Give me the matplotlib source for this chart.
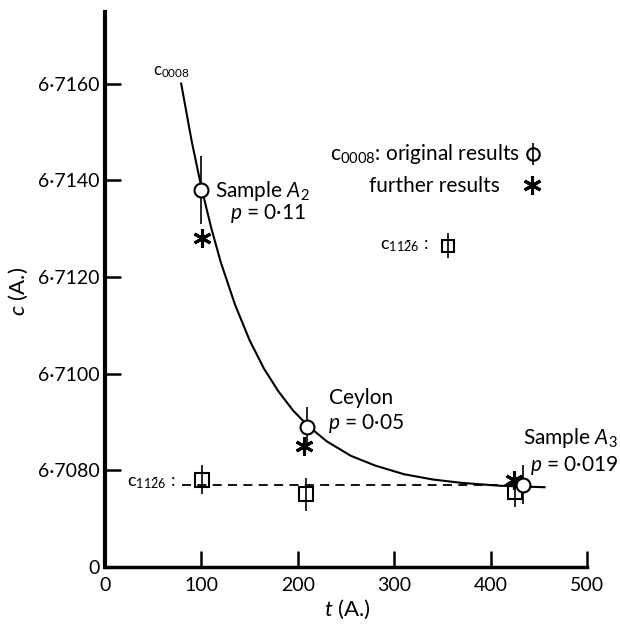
import matplotlib
matplotlib.use('Agg')
import matplotlib.pyplot as plt

plt.rcParams['font.family'] = ['Lato', 'DejaVu Sans']
plt.rcParams['mathtext.fontset'] = 'custom'
plt.rcParams['mathtext.rm'] = 'Lato'
plt.rcParams['mathtext.it'] = 'Lato:italic'
plt.rcParams['mathtext.bf'] = 'Lato:bold'

# ---- data ----
orig_t = [100, 210, 434]
orig_c = [6.7138, 6.7089, 6.7077]
orig_err = [0.0007, 0.0004, 0.0004]

further_t = [101, 206, 424]
further_c = [6.7128, 6.7085, 6.7078]

c1126_t = [101, 208, 425]
c1126_c = [6.7078, 6.7075, 6.70755]
c1126_err = [0.0003, 0.00035, 0.0003]

curve_t = [79, 90, 100, 110, 120, 135, 150, 165, 180, 195, 210, 230, 255,
           280, 310, 340, 370, 410, 456]
curve_c = [6.7160, 6.7148, 6.71385, 6.71303, 6.71231, 6.71142, 6.71069,
           6.7101, 6.70963, 6.70924, 6.70893, 6.7086, 6.7083, 6.7081,
           6.70792, 6.70781, 6.70774, 6.70768, 6.70765]

dash_t = [80, 430]
dash_c = [6.7077, 6.7077]

ytick_vals = [6.7060, 6.7080, 6.7100, 6.7120, 6.7140, 6.7160]
ytick_labels = ['0', '6·7080', '6·7100', '6·7120', '6·7140', '6·7160']
xtick_vals = [0, 100, 200, 300, 400, 500]
xtick_labels = ['0', '100', '200', '300', '400', '500']

labels = [
    (114, 6.71377, r'Sample $\mathit{A}_2$'),
    (130, 6.71331, r'$\mathit{p}$ = 0·11'),
    (232, 6.70949, 'Ceylon'),
    (231, 6.70897, r'$\mathit{p}$ = 0·05'),
    (434, 6.70866, r'Sample $\mathit{A}_3$'),
    (441, 6.70810, r'$\mathit{p}$ = 0·019'),
]

# ---- figure ----
fig = plt.figure(figsize=(6.2, 6.25), dpi=100)
ax = fig.add_axes([105 / 620, 58 / 625, 482 / 620, 555 / 625])
ax.set_xlim(0, 500)
ax.set_ylim(6.7060, 6.71748)

for s in ('top', 'right'):
    ax.spines[s].set_visible(False)
ax.spines['left'].set_linewidth(3)
ax.spines['bottom'].set_linewidth(2.5)

ax.set_yticks(ytick_vals)
ax.set_yticklabels(ytick_labels)
ax.set_xticks(xtick_vals)
ax.set_xticklabels(xtick_labels)
ax.tick_params(direction='in', length=11.5, width=1.8, labelsize=14)
ax.tick_params(axis='y', pad=4)
ax.tick_params(axis='x', pad=7)

ax.set_ylabel(r'$\mathit{c}$ (A.)', fontsize=16)
ax.yaxis.set_label_coords(-0.155, 0.497)
ax.set_xlabel(r'$\mathit{t}$ (A.)', fontsize=16)
ax.xaxis.set_label_coords(0.502, -0.055)

# curve and dashed reference line
ax.plot(curve_t, curve_c, color='k', lw=1.5, zorder=2)
ax.plot(dash_t, dash_c, color='k', lw=1.3, ls=(0, (5, 3.5)), zorder=2)

# original c0008 results
ax.errorbar(orig_t, orig_c, yerr=orig_err, fmt='o', mfc='white', mec='k',
            ecolor='k', elinewidth=1.2, capsize=0, ms=10, mew=1.5, zorder=4)
# further results
ax.plot(further_t, further_c, ls='none', marker=(6, 2, 0), ms=13, mec='k',
        mew=2.2, zorder=4)
# c1126 results
ax.errorbar(c1126_t, c1126_c, yerr=c1126_err, fmt='s', mfc='none', mec='k',
            ecolor='k', elinewidth=1.2, capsize=0, ms=10, mew=1.5, zorder=3)

# annotations
for x, y, s in labels:
    ax.text(x, y, s, fontsize=15, ha='left', va='center', clip_on=False)

ax.text(50, 6.71623, r'$\mathrm{c}_{0008}$', fontsize=12, ha='left', va='center')

# legend-like labels
ax.text(430, 6.71455, r'$\mathrm{c}_{0008}$: original results', fontsize=15,
        ha='right', va='center')
ax.errorbar([444], [6.71455], yerr=[0.00023], fmt='o', mfc='none', mec='k',
            ecolor='k', elinewidth=1.2, capsize=0, ms=9, mew=1.5)
ax.text(410, 6.71389, 'further results', fontsize=15, ha='right', va='center')
ax.plot([443], [6.71391], ls='none', marker=(6, 2, 0), ms=13, mec='k', mew=2.2)
ax.text(335, 6.71265, r'$\mathrm{c}_{11\bar{2}6}$ :', fontsize=13,
        ha='right', va='center')
ax.errorbar([356], [6.71265], yerr=[0.00025], fmt='s', mfc='none', mec='k',
            ecolor='k', elinewidth=1.2, capsize=0, ms=9, mew=1.5)
ax.text(73, 6.70773, r'$\mathrm{c}_{11\bar{2}6}$ :', fontsize=13,
        ha='right', va='center')

fig.savefig('out.png', dpi=100)
